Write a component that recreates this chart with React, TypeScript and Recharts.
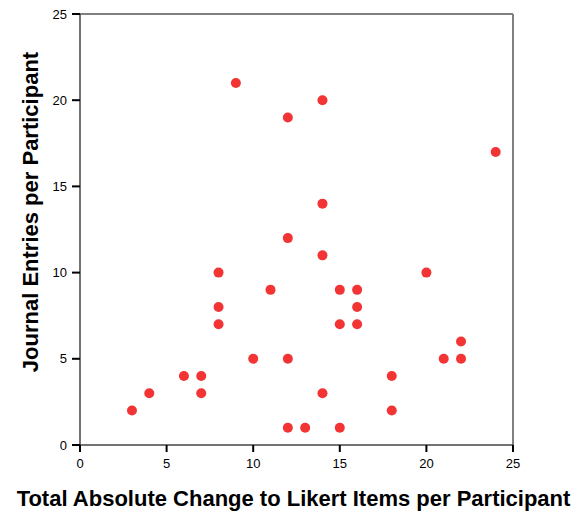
import React from "react";
import {
  ScatterChart,
  Scatter,
  XAxis,
  YAxis,
  ReferenceLine,
} from "recharts";

const likertChange = [3, 4, 6, 7, 7, 8, 8, 8, 9, 10, 11, 12, 12, 12, 12, 13, 14, 14, 14, 14, 15, 15, 15, 16, 16, 16, 18, 18, 20, 21, 22, 22, 24];
const journalEntries = [2, 3, 4, 4, 3, 10, 8, 7, 21, 5, 9, 19, 12, 5, 1, 1, 20, 14, 11, 3, 9, 7, 1, 9, 8, 7, 4, 2, 10, 5, 6, 5, 17];
const xTicks = [0, 5, 10, 15, 20, 25];
const yTicks = [0, 5, 10, 15, 20, 25];

const xTitle = "Total Absolute Change to Likert Items per Participant";
const yTitle = "Journal Entries per Participant";

const data = likertChange.map((x, i) => ({ x, y: journalEntries[i] }));

const FONT = "'Liberation Sans', Arial, sans-serif";
const DOT = "#f23434";

const Dot = (p: any) => <circle cx={p.cx} cy={p.cy} r={5} fill={DOT} />;

const XTitle = (props: any) => {
  const vb = props.viewBox;
  return (
    <text
      x={vb.x + vb.width / 2 - 3}
      y={498}
      textAnchor="middle"
      dominantBaseline="central"
      fontFamily={FONT}
      fontWeight="bold"
      fontSize={22}
      fill="#000"
    >
      {xTitle}
    </text>
  );
};

const YTitle = (props: any) => {
  return (
    <text
      x={30}
      y={212}
      textAnchor="middle"
      dominantBaseline="central"
      transform="rotate(-90, 30, 212)"
      fontFamily={FONT}
      fontWeight="bold"
      fontSize={22}
      fill="#000"
    >
      {yTitle}
    </text>
  );
};

export default function App() {
  return (
    <div style={{ position: "absolute", left: 0, top: 0, width: 579, height: 516, background: "#fff" }}>
      <ScatterChart width={579} height={516} margin={{ top: 14, right: 66, bottom: 0, left: 0 }}>
        <XAxis
          type="number"
          dataKey="x"
          domain={[0, 25]}
          ticks={xTicks}
          interval={0}
          height={71}
          tickSize={7}
          tickMargin={7}
          axisLine={{ stroke: "#444", strokeWidth: 1.5 }}
          tickLine={{ stroke: "#000", strokeWidth: 2 }}
          tick={{ fill: "#000", fontSize: 13, fontFamily: FONT }}
          label={<XTitle />}
        />
        <YAxis
          type="number"
          dataKey="y"
          domain={[0, 25]}
          ticks={yTicks}
          interval={0}
          width={80}
          tickSize={8}
          tickMargin={5}
          axisLine={{ stroke: "#444", strokeWidth: 1.5 }}
          tickLine={{ stroke: "#000", strokeWidth: 2 }}
          tick={{ fill: "#000", fontSize: 13, fontFamily: FONT }}
          label={<YTitle />}
        />
        <ReferenceLine y={25} stroke="#808080" strokeWidth={2} />
        <ReferenceLine x={25} stroke="#808080" strokeWidth={2} />
        <Scatter data={data} shape={Dot} isAnimationActive={false} />
      </ScatterChart>
    </div>
  );
}
